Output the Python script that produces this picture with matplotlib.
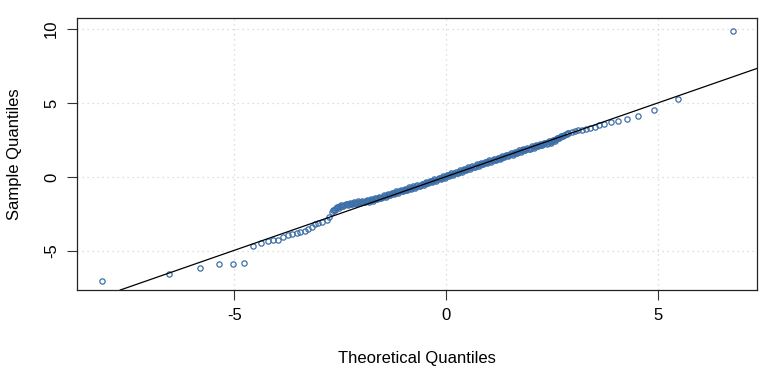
import matplotlib
matplotlib.use("Agg")
import matplotlib.pyplot as plt

plt.rcParams["font.family"] = ["Liberation Sans", "DejaVu Sans"]
plt.rcParams["axes.unicode_minus"] = False

# lower tail
low_theo = [-8.14, -6.54, -5.82, -5.37, -5.04, -4.78, -4.56, -4.37, -4.21, -4.08,
            -3.96, -3.85, -3.73, -3.63, -3.53, -3.44, -3.34, -3.25, -3.17, -3.10,
            -3.02, -2.92, -2.82, -2.76]
low_samp = [-7.01, -6.55, -6.13, -5.90, -5.90, -5.81, -4.66, -4.44, -4.32, -4.28,
            -4.26, -4.08, -3.90, -3.85, -3.76, -3.69, -3.63, -3.54, -3.40, -3.18,
            -3.09, -3.04, -2.91, -2.68]

# dense middle band
mid_theo = [-2.70, -2.65, -2.60, -2.55, -2.50, -2.45, -2.40, -2.35, -2.30, -2.25,
            -2.20, -2.15, -2.10, -2.05, -2.00, -1.95, -1.90, -1.85, -1.80, -1.75,
            -1.70, -1.65, -1.60, -1.55, -1.50, -1.45, -1.40, -1.35, -1.30, -1.25,
            -1.20, -1.15, -1.10, -1.05, -1.00, -0.95, -0.90, -0.85, -0.80, -0.75,
            -0.70, -0.65, -0.60, -0.55, -0.50, -0.45, -0.40, -0.35, -0.30, -0.25,
            -0.20, -0.15, -0.10, -0.05, 0.00, 0.05, 0.10, 0.15, 0.20, 0.25,
            0.30, 0.35, 0.40, 0.45, 0.50, 0.55, 0.60, 0.65, 0.70, 0.75,
            0.80, 0.85, 0.90, 0.95, 1.00, 1.05, 1.10, 1.15, 1.20, 1.25,
            1.30, 1.35, 1.40, 1.45, 1.50, 1.55, 1.60, 1.65, 1.70, 1.75,
            1.80, 1.85, 1.90, 1.95, 2.00, 2.05, 2.10, 2.15, 2.20, 2.25,
            2.30, 2.35, 2.40, 2.45, 2.50, 2.55, 2.60, 2.65, 2.70, 2.75,
            2.80, 2.85]
mid_samp = [-2.35, -2.22, -2.12, -2.05, -1.98, -1.93, -1.89, -1.86, -1.83, -1.80,
            -1.78, -1.75, -1.73, -1.71, -1.69, -1.66, -1.64, -1.62, -1.59, -1.55,
            -1.51, -1.47, -1.43, -1.39, -1.34, -1.29, -1.24, -1.20, -1.15, -1.11,
            -1.06, -1.02, -0.98, -0.93, -0.89, -0.85, -0.80, -0.76, -0.72, -0.67,
            -0.63, -0.58, -0.54, -0.49, -0.44, -0.39, -0.35, -0.30, -0.25, -0.20,
            -0.15, -0.10, -0.05, 0.00, 0.05, 0.10, 0.15, 0.20, 0.25, 0.30,
            0.35, 0.40, 0.45, 0.50, 0.55, 0.60, 0.65, 0.70, 0.75, 0.80,
            0.85, 0.89, 0.94, 0.98, 1.03, 1.07, 1.12, 1.16, 1.21, 1.26,
            1.31, 1.36, 1.41, 1.46, 1.50, 1.55, 1.60, 1.65, 1.70, 1.74,
            1.79, 1.83, 1.88, 1.92, 1.97, 2.02, 2.07, 2.11, 2.15, 2.19,
            2.23, 2.27, 2.31, 2.36, 2.41, 2.47, 2.54, 2.62, 2.70, 2.78,
            2.85, 2.92]

# in-between points of the band (scatter around the same trend)
mid2_theo = [-2.675, -2.625, -2.575, -2.525, -2.475, -2.425, -2.375, -2.325, -2.275, -2.225,
             -2.175, -2.125, -2.075, -2.025, -1.975, -1.925, -1.875, -1.825, -1.775, -1.725,
             -1.675, -1.625, -1.575, -1.525, -1.475, -1.425, -1.375, -1.325, -1.275, -1.225,
             -1.175, -1.125, -1.075, -1.025, -0.975, -0.925, -0.875, -0.825, -0.775, -0.725,
             -0.675, -0.625, -0.575, -0.525, -0.475, -0.425, -0.375, -0.325, -0.275, -0.225,
             -0.175, -0.125, -0.075, -0.025, 0.025, 0.075, 0.125, 0.175, 0.225, 0.275,
             0.325, 0.375, 0.425, 0.475, 0.525, 0.575, 0.625, 0.675, 0.725, 0.775,
             0.825, 0.875, 0.925, 0.975, 1.025, 1.075, 1.125, 1.175, 1.225, 1.275,
             1.325, 1.375, 1.425, 1.475, 1.525, 1.575, 1.625, 1.675, 1.725, 1.775,
             1.825, 1.875, 1.925, 1.975, 2.025, 2.075, 2.125, 2.175, 2.225, 2.275,
             2.325, 2.375, 2.425, 2.475, 2.525, 2.575, 2.625, 2.675, 2.725, 2.775,
             2.825, 2.875]
mid2_samp = [-2.22, -2.24, -2.02, -2.08, -1.89, -1.98, -1.81, -1.92, -1.75, -1.86,
             -1.70, -1.81, -1.65, -1.77, -1.61, -1.72, -1.56, -1.68, -1.50, -1.60,
             -1.42, -1.52, -1.34, -1.44, -1.25, -1.34, -1.15, -1.25, -1.06, -1.16,
             -0.97, -1.07, -0.89, -0.98, -0.80, -0.90, -0.71, -0.81, -0.63, -0.72,
             -0.54, -0.63, -0.45, -0.54, -0.35, -0.44, -0.26, -0.35, -0.16, -0.25,
             -0.06, -0.15, 0.05, -0.05, 0.15, 0.06, 0.25, 0.16, 0.35, 0.26,
             0.45, 0.36, 0.55, 0.46, 0.65, 0.56, 0.75, 0.66, 0.85, 0.76,
             0.94, 0.85, 1.03, 0.94, 1.12, 1.03, 1.21, 1.12, 1.31, 1.22,
             1.41, 1.32, 1.51, 1.41, 1.60, 1.51, 1.70, 1.61, 1.79, 1.70,
             1.88, 1.79, 1.97, 1.88, 2.07, 1.98, 2.16, 2.06, 2.24, 2.14,
             2.32, 2.22, 2.41, 2.32, 2.51, 2.44, 2.63, 2.61, 2.78, 2.78,
             2.89, 2.95]

# upper tail
high_theo = [2.89, 2.97, 3.05, 3.13, 3.22, 3.31, 3.40, 3.51, 3.62, 3.74,
             3.89, 4.06, 4.27, 4.54, 4.91, 5.48, 6.78]
high_samp = [2.99, 3.06, 3.13, 3.18, 3.18, 3.22, 3.29, 3.38, 3.51, 3.56,
             3.74, 3.78, 3.94, 4.10, 4.53, 5.29, 9.86]

# reference line (qqline)
line_intercept = 0.02
line_slope = 0.995

theo = low_theo + mid_theo + mid2_theo + high_theo
samp = low_samp + mid_samp + mid2_samp + high_samp

fig = plt.figure(figsize=(7.68, 3.76), dpi=100)
ax = fig.add_axes([0.1003, 0.2287, 0.8854, 0.7234])

ax.set_xlim(-8.72, 7.35)
ax.set_ylim(-7.64, 10.74)

for v in [-5, 0, 5]:
    ax.axvline(v, color="#d3d3d3", lw=0.9, ls=(0, (1, 3)), zorder=0)
for v in [-5, 0, 5, 10]:
    ax.axhline(v, color="#d3d3d3", lw=0.9, ls=(0, (1, 3)), zorder=0)

ax.plot(theo, samp, ls="none", marker="o", ms=3.8, mfc="none",
        mec="#3d6fa8", mew=0.9, zorder=2)
ax.axline((0, line_intercept), slope=line_slope, color="black", lw=0.9, zorder=3)

ax.set_xticks([-5, 0, 5])
ax.set_yticks([-5, 0, 5, 10])
ax.tick_params(direction="out", length=7, width=0.8, color="#333333",
               labelsize=12, pad=6)
for lab in ax.get_yticklabels():
    lab.set_rotation(90)
    lab.set_va("center")
for sp in ax.spines.values():
    sp.set_color("#222222")
    sp.set_linewidth(0.9)

ax.set_xlabel("Theoretical Quantiles", fontsize=12, labelpad=20)
ax.set_ylabel("Sample Quantiles", fontsize=12, labelpad=16)

fig.savefig("out.png", dpi=100)
